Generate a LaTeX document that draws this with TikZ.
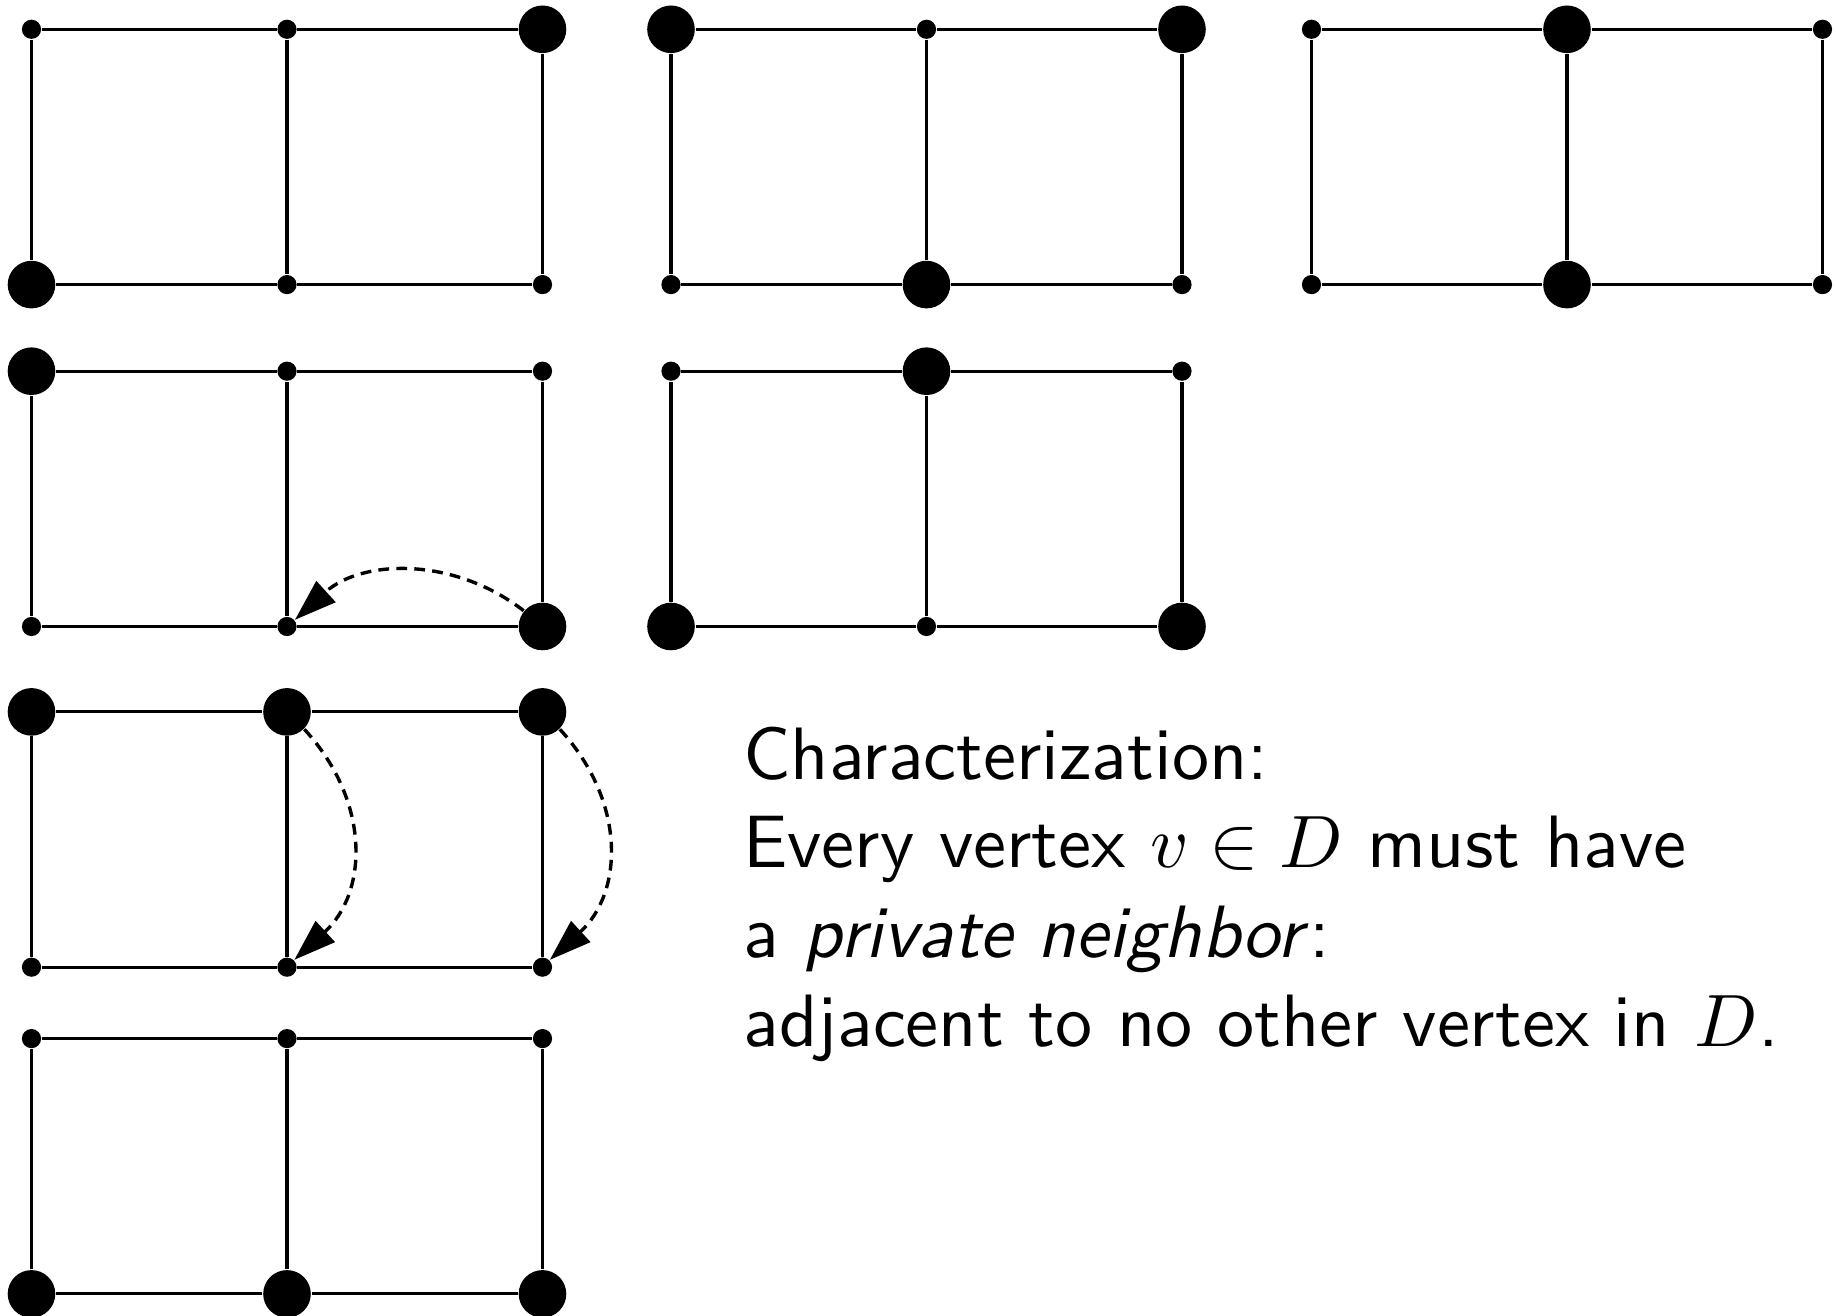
\documentclass[tikz,border=0pt]{standalone}
\usepackage{fontspec}
\usetikzlibrary{arrows.meta}
\tikzset{
  smalldot/.style={circle, fill=black, inner sep=0pt, minimum size=4.8pt},
  bigdot/.style={circle, fill=black, inner sep=0pt, minimum size=11.9pt},
  edge/.style={line width=0.8pt},
  dasharrow/.style={line width=0.85pt, dash pattern=on 2.7pt off 1.8pt,
    -{Triangle[length=10.5pt,width=7pt]}},
  txt/.style={inner sep=0pt, anchor=base west, scale=1.855, font=\sffamily\fontsize{10}{12}\selectfont}
}
\newcommand\mygrid[9]{%
  \begin{scope}[shift={(#2,#3)}]
    \node[#4] (#1a) at (0,0) {};
    \node[#5] (#1b) at (255.5,0) {};
    \node[#6] (#1c) at (511,0) {};
    \node[#7] (#1d) at (0,255.3) {};
    \node[#8] (#1e) at (255.5,255.3) {};
    \node[#9] (#1f) at (511,255.3) {};
    \draw[edge] (#1a) -- (#1b) -- (#1c) -- (#1f) -- (#1e) -- (#1d) -- (#1a);
    \draw[edge] (#1b) -- (#1e);
  \end{scope}}
\begin{document}
\begin{tikzpicture}[x=0.25pt,y=-0.25pt]
\useasboundingbox (0,0) rectangle (1836,1316);
\mygrid{ga}{31.5}{29.3}{smalldot}{smalldot}{bigdot}{bigdot}{smalldot}{smalldot}
\mygrid{gb}{671}{29.3}{bigdot}{smalldot}{bigdot}{smalldot}{bigdot}{smalldot}
\mygrid{gc}{1311.5}{29.3}{smalldot}{bigdot}{smalldot}{smalldot}{bigdot}{smalldot}
\mygrid{gd}{31.5}{371.2}{bigdot}{smalldot}{smalldot}{smalldot}{smalldot}{bigdot}
\mygrid{ge}{671}{371.2}{smalldot}{bigdot}{smalldot}{bigdot}{smalldot}{bigdot}
\mygrid{gf}{31.5}{711.9}{bigdot}{bigdot}{bigdot}{smalldot}{smalldot}{smalldot}
\mygrid{gg}{31.5}{1038.6}{smalldot}{smalldot}{smalldot}{bigdot}{bigdot}{bigdot}
\draw[dasharrow] (gdf) to[bend right=40] (gde);
\draw[dasharrow] (gfb) to[bend left=45, looseness=1.1] (gfe);
\draw[dasharrow] (gfc) to[bend left=45, looseness=1.1] (gff);
\node[txt] (t1) at (742,779.8) {Characterization:};
\node[txt] (t2) at (742,868) {Every vertex $v\in D$ must have};
\node[txt] (t3) at (742,958) {a \textit{private neighbor}:};
\node[txt] (t4) at (742,1047) {adjacent to no other vertex in $D$.};
\end{tikzpicture}
\end{document}
